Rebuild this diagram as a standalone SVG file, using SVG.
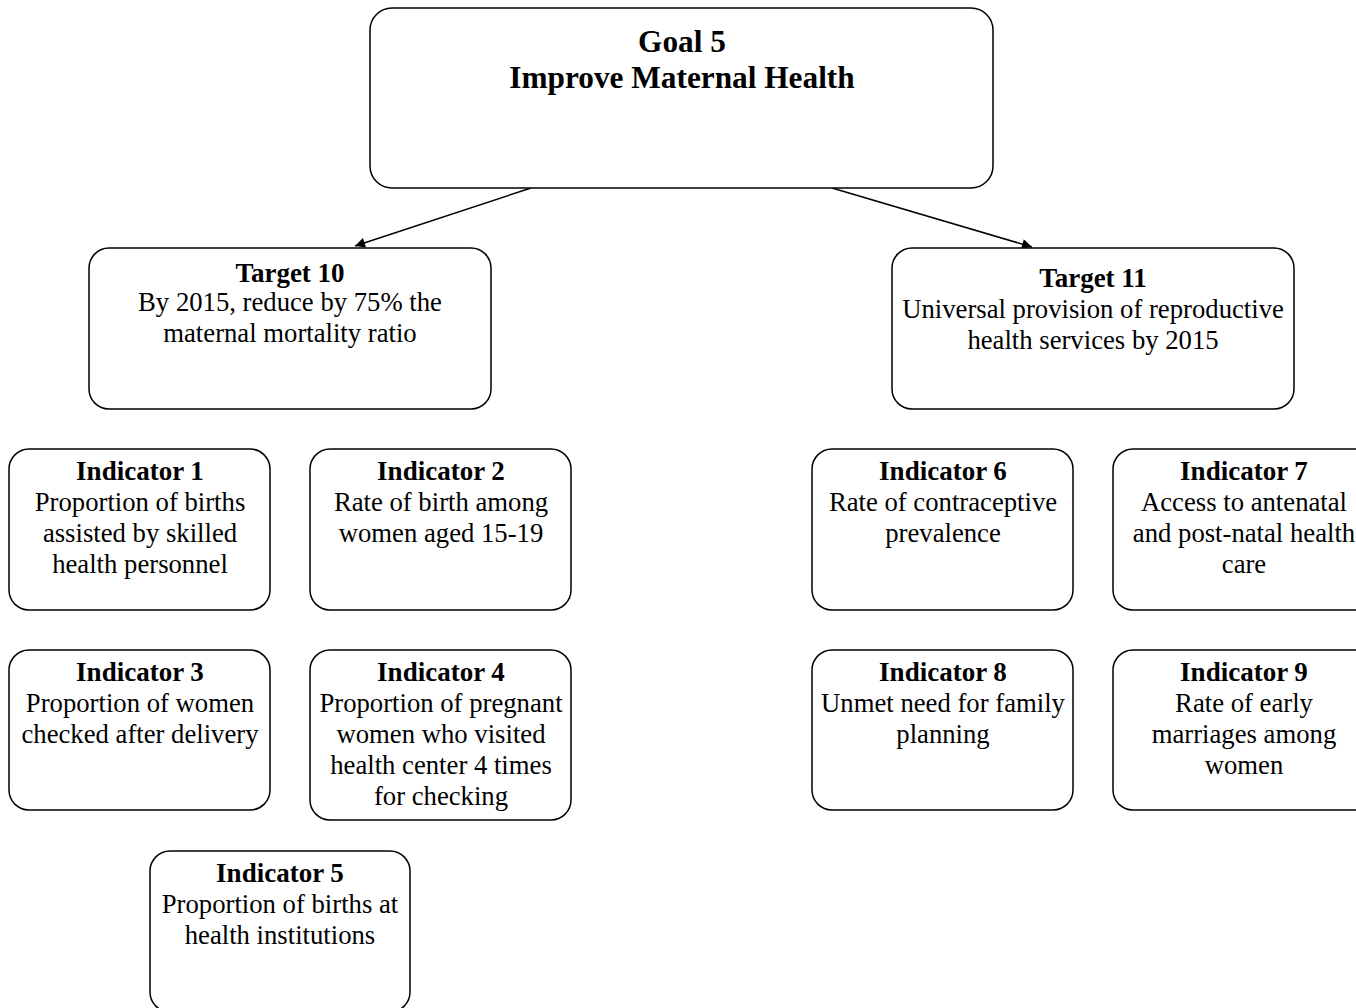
<svg xmlns="http://www.w3.org/2000/svg" width="1356" height="1008" viewBox="0 0 1356 1008" font-family="'Liberation Serif', 'Times New Roman', 'DejaVu Serif', serif">
<defs>
<marker id="ah" viewBox="0 0 10 10" refX="10" refY="5" markerWidth="14" markerHeight="10" markerUnits="userSpaceOnUse" orient="auto">
<path d="M0,0 L10,5 L0,10 z" fill="#000"/>
</marker>
<style>
.box{fill:#fff;stroke:#000;stroke-width:1.5}
text{fill:#000;text-anchor:middle;font-size:26.7px}
.b{font-weight:bold;font-size:27px}
.g{font-weight:bold;font-size:31.3px}
.conn{stroke:#000;stroke-width:1.5;fill:none;marker-end:url(#ah)}
</style>
</defs>
<rect width="1356" height="1008" fill="#fff"/>
<g id="connectors">
<line class="conn" x1="531" y1="188" x2="355" y2="246"/>
<line class="conn" x1="832" y1="188" x2="1032" y2="247"/>
</g>
<g id="goal5">
<rect class="box" x="370" y="8" width="623" height="180" rx="22"/>
<text class="g" x="682" y="52">Goal 5</text>
<text class="g" x="682" y="88">Improve Maternal Health</text>
</g>
<g id="target10">
<rect class="box" x="89" y="248" width="402" height="161" rx="20"/>
<text class="b" x="290" y="282">Target 10</text>
<text x="290" y="311">By 2015, reduce by 75% the</text>
<text x="290" y="342">maternal mortality ratio</text>
</g>
<g id="target11">
<rect class="box" x="892" y="248" width="402" height="161" rx="20"/>
<text class="b" x="1093" y="287">Target 11</text>
<text x="1093" y="318">Universal provision of reproductive</text>
<text x="1093" y="349">health services by 2015</text>
</g>
<g id="indicator1">
<rect class="box" x="9" y="449" width="261" height="161" rx="20"/>
<text class="b" x="140" y="480">Indicator 1</text>
<text x="140" y="511">Proportion of births</text>
<text x="140" y="542">assisted by skilled</text>
<text x="140" y="573">health personnel</text>
</g>
<g id="indicator2">
<rect class="box" x="310" y="449" width="261" height="161" rx="20"/>
<text class="b" x="441" y="480">Indicator 2</text>
<text x="441" y="511">Rate of birth among</text>
<text x="441" y="542">women aged 15-19</text>
</g>
<g id="indicator3">
<rect class="box" x="9" y="650" width="261" height="160" rx="20"/>
<text class="b" x="140" y="681">Indicator 3</text>
<text x="140" y="712">Proportion of women</text>
<text x="140" y="743">checked after delivery</text>
</g>
<g id="indicator4">
<rect class="box" x="310" y="650" width="261" height="170" rx="20"/>
<text class="b" x="441" y="681">Indicator 4</text>
<text x="441" y="712">Proportion of pregnant</text>
<text x="441" y="743">women who visited</text>
<text x="441" y="774">health center 4 times</text>
<text x="441" y="805">for checking</text>
</g>
<g id="indicator5">
<rect class="box" x="150" y="851" width="260" height="161" rx="20"/>
<text class="b" x="280" y="882">Indicator 5</text>
<text x="280" y="913">Proportion of births at</text>
<text x="280" y="944">health institutions</text>
</g>
<g id="indicator6">
<rect class="box" x="812" y="449" width="261" height="161" rx="20"/>
<text class="b" x="943" y="480">Indicator 6</text>
<text x="943" y="511">Rate of contraceptive</text>
<text x="943" y="542">prevalence</text>
</g>
<g id="indicator7">
<rect class="box" x="1113" y="449" width="261" height="161" rx="20"/>
<text class="b" x="1244" y="480">Indicator 7</text>
<text x="1244" y="511">Access to antenatal</text>
<text x="1244" y="542">and post-natal health</text>
<text x="1244" y="573">care</text>
</g>
<g id="indicator8">
<rect class="box" x="812" y="650" width="261" height="160" rx="20"/>
<text class="b" x="943" y="681">Indicator 8</text>
<text x="943" y="712">Unmet need for family</text>
<text x="943" y="743">planning</text>
</g>
<g id="indicator9">
<rect class="box" x="1113" y="650" width="261" height="160" rx="20"/>
<text class="b" x="1244" y="681">Indicator 9</text>
<text x="1244" y="712">Rate of early</text>
<text x="1244" y="743">marriages among</text>
<text x="1244" y="774">women</text>
</g>
</svg>
